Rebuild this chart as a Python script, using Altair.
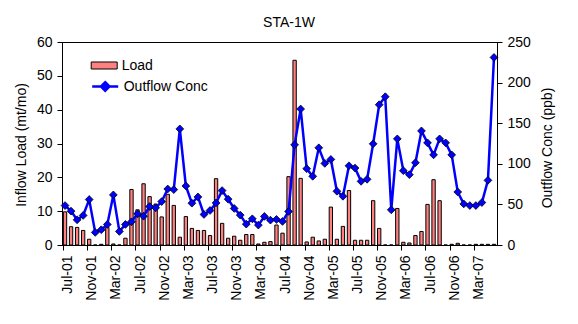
import altair as alt
import pandas as pd

months = [
    "Jul-01", "Aug-01", "Sep-01", "Oct-01", "Nov-01", "Dec-01",
    "Jan-02", "Feb-02", "Mar-02", "Apr-02", "May-02", "Jun-02",
    "Jul-02", "Aug-02", "Sep-02", "Oct-02", "Nov-02", "Dec-02",
    "Jan-03", "Feb-03", "Mar-03", "Apr-03", "May-03", "Jun-03",
    "Jul-03", "Aug-03", "Sep-03", "Oct-03", "Nov-03", "Dec-03",
    "Jan-04", "Feb-04", "Mar-04", "Apr-04", "May-04", "Jun-04",
    "Jul-04", "Aug-04", "Sep-04", "Oct-04", "Nov-04", "Dec-04",
    "Jan-05", "Feb-05", "Mar-05", "Apr-05", "May-05", "Jun-05",
    "Jul-05", "Aug-05", "Sep-05", "Oct-05", "Nov-05", "Dec-05",
    "Jan-06", "Feb-06", "Mar-06", "Apr-06", "May-06", "Jun-06",
    "Jul-06", "Aug-06", "Sep-06", "Oct-06", "Nov-06", "Dec-06",
    "Jan-07", "Feb-07", "Mar-07", "Apr-07", "May-07", "Jun-07",
]

load = [
    9.8, 5.4, 5.2, 4.3, 1.7, 0.0,
    0.2, 5.2, 0.3, 0.0, 2.0, 16.4,
    10.4, 18.1, 14.3, 12.1, 8.3, 15.0,
    11.7, 2.3, 8.4, 4.9, 4.3, 4.3,
    2.8, 19.6, 6.4, 2.0, 2.6, 1.4,
    3.1, 3.1, 0.3, 0.8, 1.0, 5.9,
    3.5, 20.2, 54.6, 19.7, 0.9, 2.3,
    1.2, 1.7, 11.2, 1.7, 5.5, 16.1,
    1.4, 1.4, 1.4, 13.1, 4.9, 0.0,
    0.0, 10.8, 0.8, 0.6, 2.8, 4.0,
    12.0, 19.3, 13.1, 0.0, 0.2, 0.5,
    0.0, 0.0, 0.2, 0.2, 0.2, 0.2,
]

conc = [
    48.6, 41.7, 31.0, 36.4, 56.0, 15.5,
    18.8, 25.3, 61.7, 16.7, 25.3, 28.6,
    38.4, 35.5, 47.4, 45.8, 53.5, 69.0,
    68.2, 143.0, 72.7, 51.5, 59.2, 37.6,
    42.5, 51.8, 67.0, 56.4, 45.0, 36.8,
    25.7, 32.3, 24.5, 35.2, 30.6, 31.5,
    29.0, 41.3, 123.4, 167.5, 94.0, 84.6,
    119.7, 100.5, 105.4, 66.2, 60.0, 97.6,
    94.8, 78.4, 80.9, 124.6, 172.8, 182.6,
    43.3, 130.7, 91.5, 86.6, 101.3, 140.5,
    125.8, 111.0, 130.7, 125.8, 111.0, 65.3,
    50.6, 48.6, 48.6, 52.3, 79.6, 231.0,
]

tick_labels = months[::4]
load_ticks = [0, 10, 20, 30, 40, 50, 60]
conc_ticks = [0, 50, 100, 150, 200, 250]

df = pd.DataFrame({"month": months, "load": load, "conc": conc})
df["lname"] = "Load"
df["cname"] = "Outflow Conc"

FONT = "Liberation Sans"
W, H = 435, 203

x = alt.X(
    "month:O",
    sort=months,
    scale=alt.Scale(paddingInner=0.45, paddingOuter=0.225),
    axis=alt.Axis(
        values=tick_labels, bandPosition=0, labelAngle=270, labelOffset=3,
        title=None, tickSize=5, labelPadding=5, labelFontSize=14, labelFont=FONT,
        labelColor="black", domainColor="black", tickColor="black", grid=False,
    ),
)

y_load = alt.Y(
    "load:Q",
    scale=alt.Scale(domain=[0, 60], nice=False),
    axis=alt.Axis(
        values=load_ticks, title="Inflow Load (mt/mo)", grid=False, tickSize=5,
        labelPadding=5, labelFontSize=14, labelFont=FONT, labelColor="black",
        domainColor="black", tickColor="black", titleFont=FONT, titleFontSize=14,
        titleFontWeight="normal", titleColor="black", titleAngle=270,
        titleX=-41, titleY=H / 2 + 1, titleAlign="center", titleBaseline="middle",
    ),
)

y_conc = alt.Y(
    "conc:Q",
    scale=alt.Scale(domain=[0, 250], nice=False),
    axis=alt.Axis(
        orient="right", values=conc_ticks, title="Outflow Conc (ppb)", grid=False,
        tickSize=5, labelPadding=5, labelFontSize=14, labelFont=FONT,
        labelColor="black", domainColor="black", tickColor="black",
        titleFont=FONT, titleFontSize=14, titleFontWeight="normal",
        titleColor="black", titleAngle=270, titleX=50, titleY=H / 2 + 4,
        titleAlign="center", titleBaseline="middle",
    ),
)

bars = alt.Chart(df).mark_bar(stroke="black", strokeWidth=1).encode(
    x=x,
    y=y_load,
    fill=alt.Fill(
        "lname:N",
        scale=alt.Scale(domain=["Load"], range=["#FF8080"]),
        legend=alt.Legend(
            title=None, orient="none", legendX=28.7, legendY=10,
            symbolType="M-1,-0.27H1V0.27H-1Z", symbolSize=676,
            symbolStrokeColor="black", symbolStrokeWidth=1,
            labelFont=FONT, labelFontSize=14, labelColor="black",
            labelOffset=4, padding=0,
        ),
    ),
)

line = alt.Chart(df).mark_line(strokeWidth=2.5).encode(
    x=x,
    y=y_conc,
    stroke=alt.Stroke(
        "cname:N",
        scale=alt.Scale(domain=["Outflow Conc"], range=["#0000FF"]),
        legend=alt.Legend(
            title=None, orient="none", legendX=28.7, legendY=30,
            symbolType="M-1,0H1M0,-0.33L0.33,0L0,0.33L-0.33,0Z", symbolSize=676,
            symbolStrokeWidth=2.5, symbolFillColor="#0000FF",
            labelFont=FONT, labelFontSize=14, labelColor="black",
            labelOffset=4, padding=0,
        ),
    ),
)

pts = alt.Chart(df).mark_point(
    shape="diamond", filled=True, size=60, fill="#0000FF",
    stroke="black", strokeWidth=0.8, opacity=1,
).encode(x=x, y=y_conc)

chart = (
    alt.layer(bars, alt.layer(line, pts))
    .resolve_scale(y="independent")
    .properties(
        width=W, height=H,
        title=alt.TitleParams(
            "STA-1W", font=FONT, fontSize=14, fontWeight="normal", color="black",
            anchor="middle", dx=9.5, offset=5,
        ),
        padding={"left": 62, "top": 42, "right": 81, "bottom": 79},
        autosize=alt.AutoSizeParams(type="none"),
        background="white",
    )
    .configure_view(stroke="black", strokeWidth=1)
)

chart.save("out.html", embed_options={"renderer": "svg", "actions": False})
